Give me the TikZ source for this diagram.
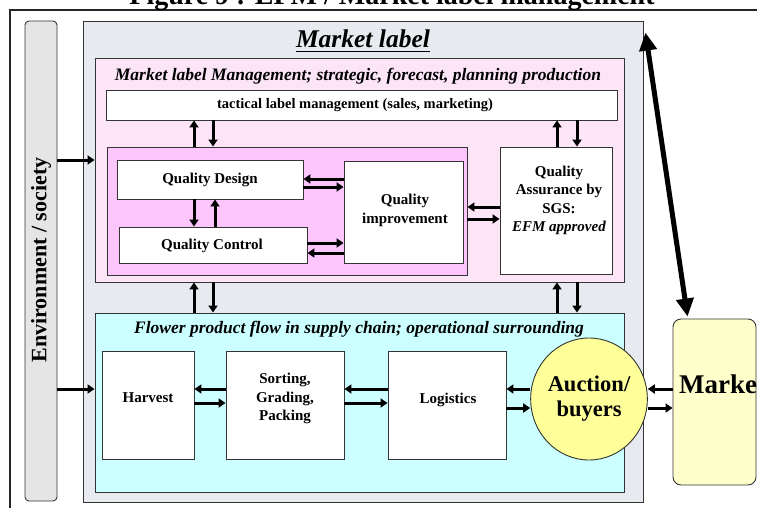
\documentclass[tikz,border=0pt]{standalone}
\usepackage{fontspec}
\setmainfont{Liberation Serif}
\usetikzlibrary{arrows.meta,shapes.geometric,fit}

\definecolor{edge}{HTML}{333333}
\definecolor{envfill}{HTML}{E5E5E5}
\definecolor{mlfill}{HTML}{E7EAEF}
\definecolor{pinkfill}{HTML}{FDE5F8}
\definecolor{magfill}{HTML}{FCC6FC}
\definecolor{cyanfill}{HTML}{CCFFFF}
\definecolor{auctfill}{HTML}{FFFF99}
\definecolor{mktfill}{HTML}{FFFFCC}

\tikzset{
  panel/.style={draw=edge, line width=0.9pt, inner sep=0pt},
  whitebox/.style={panel, fill=white},
  lbl/.style={font=\fontsize{15}{18.5}\selectfont\bfseries, align=center, inner sep=0pt},
  subtitle/.style={font=\fontsize{17.5}{20}\selectfont\bfseries\itshape, inner sep=0pt, anchor=base},
  arr/.style={line width=3pt, -{Triangle[length=7pt,width=9pt]}},
  bigarr/.style={line width=5pt, {Triangle[length=18pt,width=17pt]}-{Triangle[length=18pt,width=17pt]}},
}

\begin{document}
\begin{tikzpicture}[x=1pt,y=-1pt]
\useasboundingbox (0,0) rectangle (757,508);
\clip (0,0) rectangle (757,508);

% figure frame and caption
\draw[line width=2.2pt, black!85] (10,10) rectangle (800,560);
\node[anchor=base, inner sep=0pt, font=\fontsize{28}{30}\selectfont\bfseries] (figtitle) at (392,4.5) {Figure 9 : EFM / Market label management};

% environment bar
\node[panel, fill=envfill, rounded corners=4pt, fit={(25,21) (57,501)}] (env) {};
\node[rotate=90, inner sep=0pt, font=\fontsize{22}{24}\selectfont\bfseries] (envtext) at (41,260) {Environment / society};

% market label frame
\node[panel, fill=mlfill, fit={(83,21) (643,502)}] (mlbox) {};
\node[anchor=base, inner sep=0pt, font=\fontsize{25.5}{28}\selectfont\bfseries\itshape] (mltitle) at (363,48) {Market label};
\draw[line width=1.8pt] ([yshift=-3.5pt]mltitle.base west) -- ([yshift=-3.5pt]mltitle.base east);

% management layer
\node[panel, fill=pinkfill, fit={(95,58) (624,282)}] (mgmt) {};
\node[subtitle] (mgmttitle) at (358,81) {Market label Management; strategic, forecast, planning production};
\node[whitebox, fit={(106,90) (617,120)}] (tact) {};
\node[font=\fontsize{14.5}{16}\selectfont\bfseries, inner sep=0pt] (tacttext) at (355,105) {tactical label management (sales, marketing)};

\node[panel, fill=magfill, fit={(107,147) (467,275)}] (qual) {};
\node[whitebox, fit={(117,160) (303,199)}] (qd) {};
\node[lbl] (qdtext) at (210,180) {Quality Design};
\node[whitebox, fit={(119,227) (307,263)}] (qc) {};
\node[lbl] (qctext) at (212,246) {Quality Control};
\node[whitebox, fit={(344,161) (463,263)}] (qi) {};
\node[lbl] (qitext) at (405,210.5) {Quality\\improvement};
\node[whitebox, fit={(500,147) (612,274)}] (qa) {};
\node[lbl] (qatext) at (559,200.5) {Quality\\Assurance by\\SGS:\\\textit{EFM approved}};

% supply chain layer
\node[panel, fill=cyanfill, fit={(95,313) (624,492)}] (flow) {};
\node[subtitle] (flowtitle) at (359,333) {Flower product flow in supply chain; operational surrounding};
\node[whitebox, fit={(102,351) (194,459)}] (harv) {};
\node[lbl] (harvtext) at (148,398) {Harvest};
\node[whitebox, fit={(226,351) (344,459)}] (sort) {};
\node[lbl] (sorttext) at (285,398.5) {Sorting,\\Grading,\\Packing};
\node[whitebox, fit={(388,351) (506,459)}] (logi) {};
\node[lbl] (logitext) at (448,400) {Logistics};
\node[ellipse, draw=edge, line width=0.9pt, fill=auctfill, inner sep=0pt,
      minimum width=105pt, minimum height=122pt, align=center,
      font=\fontsize{22.5}{25}\selectfont\bfseries] (auct) at (589,399) {Auction/\\buyers};

% market
\node[panel, fill=mktfill, rounded corners=8pt, fit={(673,319) (756,485)}] (mkt) {};
\node[anchor=base west, inner sep=0pt, font=\fontsize{27}{29}\selectfont\bfseries] (mkttext) at (679,393) {Market};

% environment inputs
\draw[arr] (env.east |- 0,160) -- (mgmt.west |- 0,160);
\draw[arr] (env.east |- 0,389) -- (flow.west |- 0,389);

% tactical level links
\draw[arr] (194,0 |- qual.north) -- (194,0 |- tact.south);
\draw[arr] (213,0 |- tact.south) -- (213,0 |- qual.north);
\draw[arr] (557,0 |- qa.north) -- (557,0 |- tact.south);
\draw[arr] (577,0 |- tact.south) -- (577,0 |- qa.north);

% quality cycle
\draw[arr] (194,0 |- qd.south) -- (194,0 |- qc.north);
\draw[arr] (215,0 |- qc.north) -- (215,0 |- qd.south);
\draw[arr] (qi.west |- 0,179) -- (qd.east |- 0,179);
\draw[arr] (qd.east |- 0,187) -- (qi.west |- 0,187);
\draw[arr] (qc.east |- 0,243) -- (qi.west |- 0,243);
\draw[arr] (qi.west |- 0,253) -- (qc.east |- 0,253);
\draw[arr] (qa.west |- 0,207) -- (qual.east |- 0,207);
\draw[arr] (qual.east |- 0,219) -- (qa.west |- 0,219);

% management to operations
\draw[arr] (194,0 |- flow.north) -- (194,0 |- mgmt.south);
\draw[arr] (213,0 |- mgmt.south) -- (213,0 |- flow.north);
\draw[arr] (557,0 |- flow.north) -- (557,0 |- mgmt.south);
\draw[arr] (577,0 |- mgmt.south) -- (577,0 |- flow.north);

% product flow
\draw[arr] (sort.west |- 0,389) -- (harv.east |- 0,389);
\draw[arr] (harv.east |- 0,403) -- (sort.west |- 0,403);
\draw[arr] (logi.west |- 0,389) -- (sort.east |- 0,389);
\draw[arr] (sort.east |- 0,403) -- (logi.west |- 0,403);
\draw[arr] (auct.west |- 0,389) -- (logi.east |- 0,389);
\draw[arr] (logi.east |- 0,408) -- (auct.west |- 0,408);
\draw[arr] (mkt.west |- 0,389) -- (auct.east |- 0,389);
\draw[arr] (auct.east |- 0,408) -- (mkt.west |- 0,408);

% market label <-> market
\draw[bigarr] ([xshift=2pt,yshift=-12pt]mlbox.north east) -- ([xshift=15pt,yshift=2pt]mkt.north west);
\end{tikzpicture}
\end{document}
